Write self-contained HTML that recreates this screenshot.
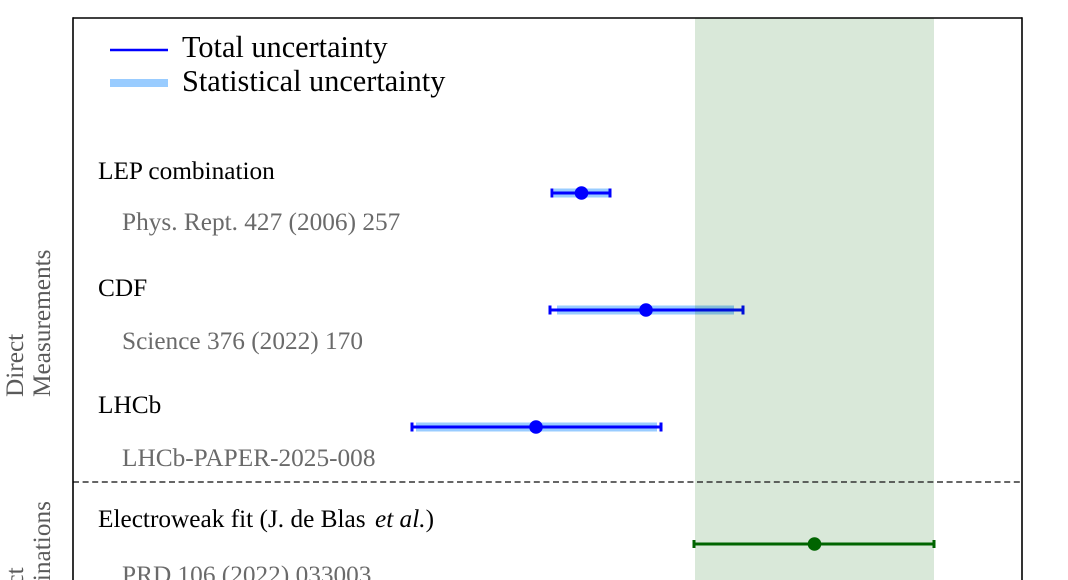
<!DOCTYPE html>
<html><head><meta charset="utf-8"><style>
html,body{margin:0;padding:0;background:#fff;width:1068px;height:580px;overflow:hidden;}
svg{display:block;overflow:hidden;}
text{font-family:"Liberation Serif","DejaVu Serif",serif;}
</style></head><body>
<svg width="1068" height="580" viewBox="0 0 1068 580" xmlns="http://www.w3.org/2000/svg">
<defs><clipPath id="c"><rect x="0" y="0" width="1068" height="580"/></clipPath></defs>
<g clip-path="url(#c)">
<rect x="0" y="0" width="1068" height="580" fill="#fff"/>

<!-- stat bands -->
<g stroke="#99ccff" stroke-width="9" stroke-linecap="butt">
  <line x1="554" y1="193" x2="609" y2="193"/>
  <line x1="557" y1="310" x2="734" y2="310"/>
  <line x1="416" y1="427" x2="657" y2="427"/>
</g>
<!-- total -->
<g stroke="#0000ff" stroke-width="3">
  <line x1="552" y1="193" x2="610" y2="193"/>
  <line x1="550" y1="310" x2="743" y2="310"/>
  <line x1="412" y1="427" x2="661" y2="427"/>
  <line x1="552" y1="188.5" x2="552" y2="197.5"/>
  <line x1="610" y1="188.5" x2="610" y2="197.5"/>
  <line x1="550" y1="305.5" x2="550" y2="314.5"/>
  <line x1="743" y1="305.5" x2="743" y2="314.5"/>
  <line x1="412" y1="422.5" x2="412" y2="431.5"/>
  <line x1="661" y1="422.5" x2="661" y2="431.5"/>
</g>
<g fill="#0000ff">
  <circle cx="581.5" cy="193" r="6.8"/>
  <circle cx="646" cy="310" r="6.8"/>
  <circle cx="536" cy="427" r="6.8"/>
</g>

<!-- green band -->
<rect x="695" y="18" width="239" height="562" fill="rgb(0,100,0)" fill-opacity="0.148"/>

<!-- EW fit -->
<g stroke="#006400" stroke-width="3">
  <line x1="694" y1="544" x2="934" y2="544"/>
  <line x1="694" y1="540" x2="694" y2="548"/>
  <line x1="934" y1="540" x2="934" y2="548"/>
</g>
<circle cx="814.5" cy="544" r="6.8" fill="#006400"/>

<!-- dashed separator -->
<line x1="73" y1="482" x2="1022" y2="482" stroke="#333" stroke-width="1.5" stroke-dasharray="6,3.6"/>

<!-- frame -->
<line x1="73" y1="18" x2="1022" y2="18" stroke="#000" stroke-width="1.6"/>
<line x1="73" y1="17.2" x2="73" y2="580" stroke="#000" stroke-width="1.6"/>
<line x1="1022" y1="17.2" x2="1022" y2="580" stroke="#000" stroke-width="1.6"/>

<!-- legend -->
<line x1="110" y1="50" x2="168" y2="50" stroke="#0000ff" stroke-width="2.5"/>
<line x1="110" y1="83" x2="168" y2="83" stroke="#99ccff" stroke-width="8"/>
<text x="182" y="57" font-size="30.3" fill="#000">Total uncertainty</text>
<text x="182" y="91" font-size="30.3" fill="#000">Statistical uncertainty</text>

<!-- labels -->
<g font-size="25.3" fill="#000">
  <text x="98" y="179">LEP combination</text>
  <text x="98" y="296">CDF</text>
  <text x="98" y="413">LHCb</text>
  <text x="98" y="527">Electroweak fit (J. de Blas <tspan font-style="italic" dx="3">et al.</tspan>)</text>
</g>
<g font-size="25.3" fill="#6a6a6a">
  <text x="122" y="230">Phys. Rept. 427 (2006) 257</text>
  <text x="122" y="349">Science 376 (2022) 170</text>
  <text x="122" y="466">LHCb-PAPER-2025-008</text>
  <text x="122" y="583">PRD 106 (2022) 033003</text>
</g>

<!-- rotated group labels -->
<g font-size="25.3" fill="#5a5a5a">
  <text transform="translate(23,397) rotate(-90)">Direct</text>
  <text transform="translate(50,397) rotate(-90)">Measurements</text>
  <text transform="translate(23,646) rotate(-90)">Indirect</text>
  <text transform="translate(50,657) rotate(-90)">Determinations</text>
</g>
</g>
</svg>
</body></html>
